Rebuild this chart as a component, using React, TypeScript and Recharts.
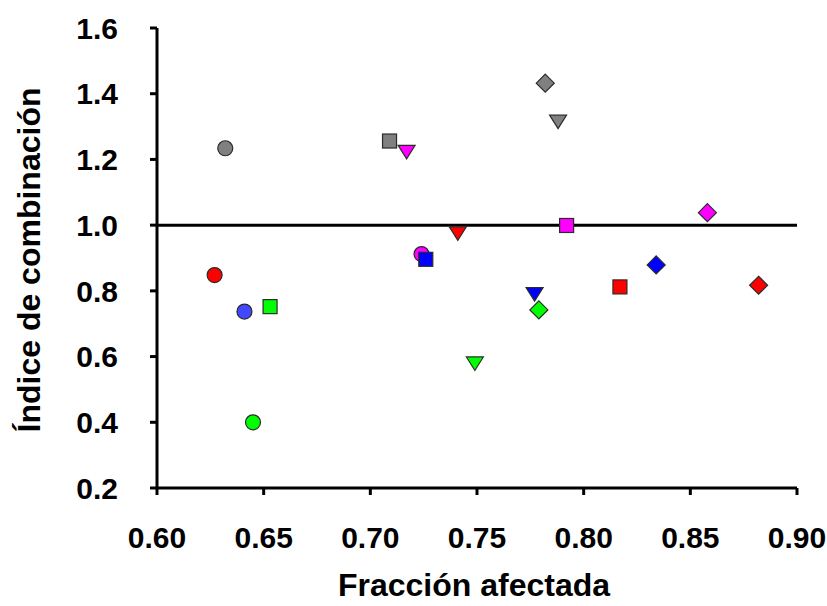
import React from 'react';
import { ScatterChart, Scatter, XAxis, YAxis, ReferenceLine, Cell } from 'recharts';

// axis ticks
const xTicks = [0.6, 0.65, 0.7, 0.75, 0.8, 0.85, 0.9];
const yTicks = [0.2, 0.4, 0.6, 0.8, 1.0, 1.2, 1.4, 1.6];

// one array per marker shape, colors kept separately
const circleX = [0.632, 0.627, 0.641, 0.645, 0.724];
const circleY = [1.234, 0.848, 0.737, 0.4, 0.912];
const circleColors = ['#808080', '#ff0000', '#4248ff', '#00ff00', '#ff00ff'];

const triangleX = [0.717, 0.788, 0.741, 0.777, 0.749];
const triangleY = [1.223, 1.315, 0.975, 0.79, 0.579];
const triangleColors = ['#ff00ff', '#808080', '#ff0000', '#0000ff', '#00ff00'];

const squareX = [0.709, 0.792, 0.726, 0.653, 0.817];
const squareY = [1.256, 0.999, 0.896, 0.752, 0.812];
const squareColors = ['#808080', '#ff00ff', '#0000ff', '#00ff00', '#ff0000'];

const diamondX = [0.782, 0.858, 0.834, 0.779, 0.882];
const diamondY = [1.432, 1.038, 0.879, 0.742, 0.817];
const diamondColors = ['#808080', '#ff00ff', '#0000ff', '#00ff00', '#ff0000'];

const toPoints = (xs: number[], ys: number[]) => xs.map((x, i) => ({ x, y: ys[i] }));

const OUTLINE = '#2b2b2b';
const FONT = 'Arial, "Liberation Sans", sans-serif';

const CircleMark = (p: any) => (
  <circle cx={p.cx} cy={p.cy} r={7.5} fill={p.fill} stroke={OUTLINE} strokeWidth={1.2} />
);
const SquareMark = (p: any) => (
  <rect x={p.cx - 7} y={p.cy - 7} width={14} height={14} fill={p.fill} stroke={OUTLINE} strokeWidth={1.2} />
);
const TriangleMark = (p: any) => (
  <path
    d={`M${p.cx - 8.5},${p.cy - 6.5}L${p.cx + 8.5},${p.cy - 6.5}L${p.cx},${p.cy + 7}Z`}
    fill={p.fill}
    stroke={OUTLINE}
    strokeWidth={1.2}
  />
);
const DiamondMark = (p: any) => (
  <path
    d={`M${p.cx},${p.cy - 9}L${p.cx + 9},${p.cy}L${p.cx},${p.cy + 9}L${p.cx - 9},${p.cy}Z`}
    fill={p.fill}
    stroke={OUTLINE}
    strokeWidth={1.2}
  />
);

const tickStyle = { fill: '#000', fontSize: 30, fontWeight: 'bold', fontFamily: FONT };
const titleStyle = { fill: '#000', fontSize: 32, fontWeight: 'bold', fontFamily: FONT };

export default function App() {
  return (
    <div style={{ position: 'absolute', left: 0, top: 0, background: '#fff' }}>
      <ScatterChart width={827} height={606} margin={{ top: 28, right: 30, left: 57, bottom: 58 }}>
        <XAxis
          type="number"
          dataKey="x"
          domain={[0.6, 0.9]}
          ticks={xTicks}
          interval={0}
          tickFormatter={(v: number) => v.toFixed(2)}
          axisLine={{ stroke: '#000', strokeWidth: 3 }}
          tickLine={{ stroke: '#000', strokeWidth: 3 }}
          tickSize={7}
          tickMargin={32}
          tick={tickStyle}
          height={60}
          label={{
            content: () => (
              <text x={474} y={596} textAnchor="middle" style={titleStyle}>
                Fracción afectada
              </text>
            ),
          }}
        />
        <YAxis
          type="number"
          dataKey="y"
          domain={[0.2, 1.6]}
          ticks={yTicks}
          interval={0}
          tickFormatter={(v: number) => v.toFixed(1)}
          axisLine={{ stroke: '#000', strokeWidth: 3 }}
          tickLine={{ stroke: '#000', strokeWidth: 3 }}
          tickSize={7}
          tickMargin={32}
          tick={tickStyle}
          width={100}
          label={{
            content: () => (
              <text x={40} y={260} transform="rotate(-90, 40, 260)" textAnchor="middle" style={titleStyle}>
                Índice de combinación
              </text>
            ),
          }}
        />
        <ReferenceLine y={1} stroke="#000" strokeWidth={3} />
        <Scatter data={toPoints(circleX, circleY)} shape={CircleMark} isAnimationActive={false}>
          {circleColors.map((c, i) => (
            <Cell key={`c-${i}`} fill={c} />
          ))}
        </Scatter>
        <Scatter data={toPoints(triangleX, triangleY)} shape={TriangleMark} isAnimationActive={false}>
          {triangleColors.map((c, i) => (
            <Cell key={`t-${i}`} fill={c} />
          ))}
        </Scatter>
        <Scatter data={toPoints(squareX, squareY)} shape={SquareMark} isAnimationActive={false}>
          {squareColors.map((c, i) => (
            <Cell key={`s-${i}`} fill={c} />
          ))}
        </Scatter>
        <Scatter data={toPoints(diamondX, diamondY)} shape={DiamondMark} isAnimationActive={false}>
          {diamondColors.map((c, i) => (
            <Cell key={`d-${i}`} fill={c} />
          ))}
        </Scatter>
      </ScatterChart>
    </div>
  );
}
